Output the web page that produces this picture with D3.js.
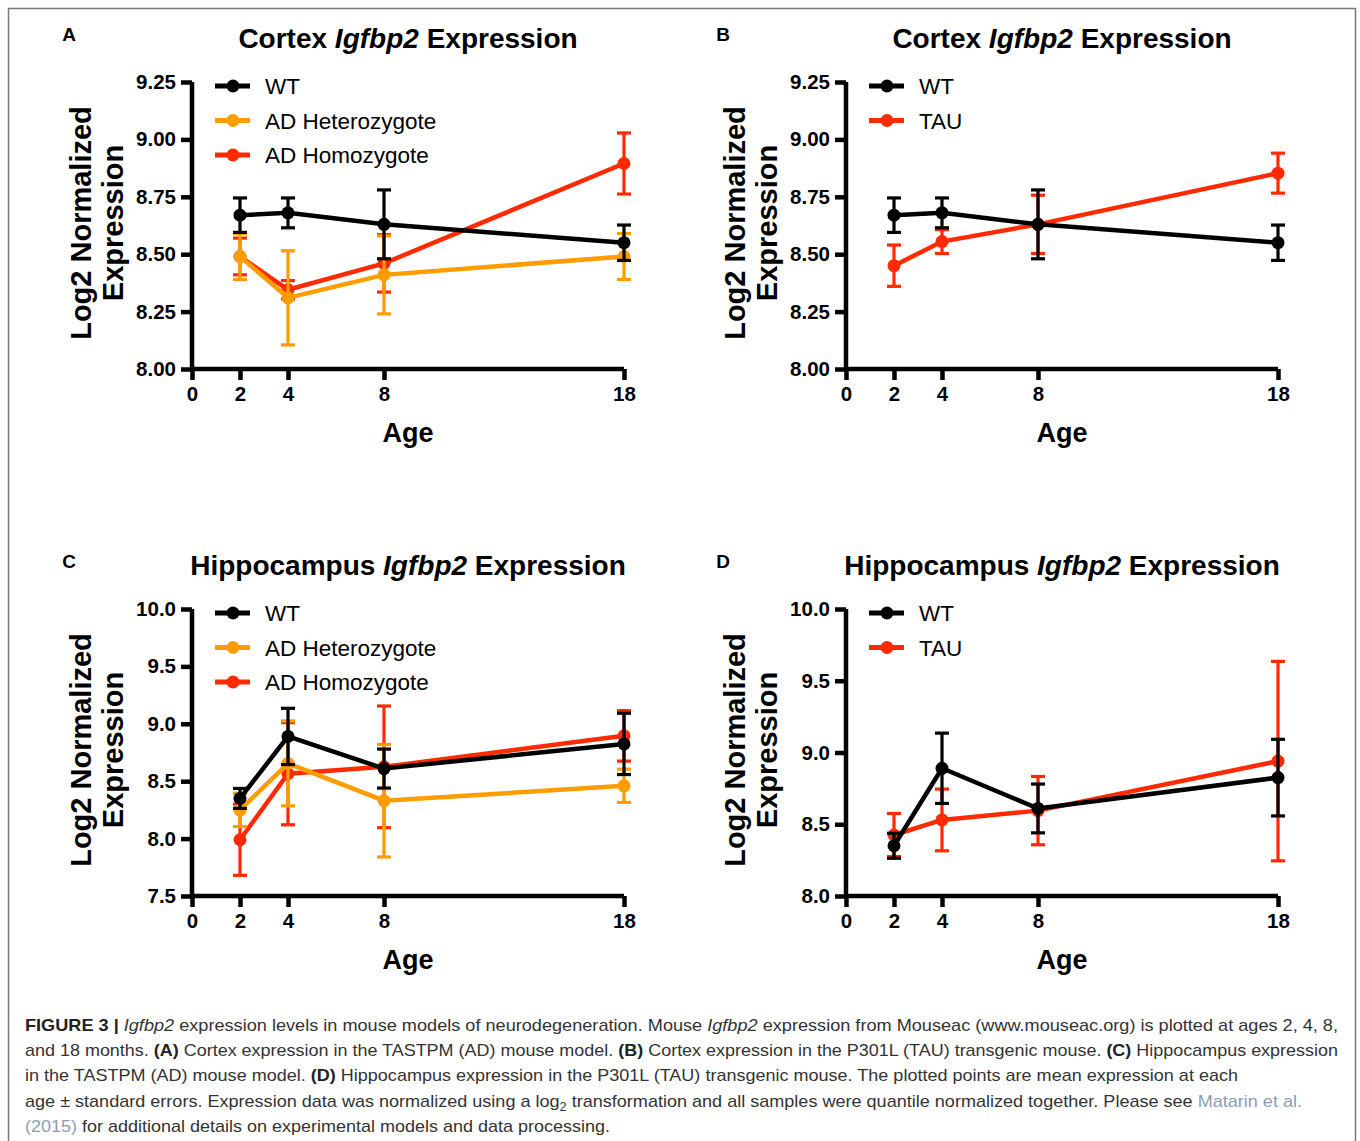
<!DOCTYPE html>
<html>
<head>
<meta charset="utf-8">
<script src="https://cdn.jsdelivr.net/npm/d3@7"></script>
<style>
  body { margin: 0; background: #fff; }
  svg { display: block; font-family: "Liberation Sans", Arial, sans-serif; }
</style>
</head>
<body>
<div id="fig"></div>
<script>
// ages on the x axis, months
var ages = [2, 4, 8, 18];
var xTicks = [0, 2, 4, 8, 18];

// y tick labels per panel
var cortexTicks = [8.0, 8.25, 8.5, 8.75, 9.0, 9.25];
var hippoADTicks = [7.5, 8.0, 8.5, 9.0, 9.5, 10.0];
var hippoTauTicks = [8.0, 8.5, 9.0, 9.5, 10.0];

// cortex means and standard errors
var cortexWT = [8.67, 8.68, 8.63, 8.55];
var cortexWTErr = [0.075, 0.065, 0.15, 0.077];
var cortexHet = [8.49, 8.31, 8.41, 8.49];
var cortexHetErr = [0.1, 0.205, 0.17, 0.1];
var cortexHom = [8.49, 8.345, 8.46, 8.895];
var cortexHomErr = [0.08, 0.04, 0.125, 0.133];
var cortexTau = [8.45, 8.555, 8.63, 8.853];
var cortexTauErr = [0.09, 0.052, 0.127, 0.087];

// hippocampus means and standard errors
var hippoWT = [8.35, 8.89, 8.61, 8.825];
var hippoWTErr = [0.087, 0.245, 0.17, 0.267];
var hippoHet = [8.25, 8.655, 8.33, 8.46];
var hippoHetErr = [0.145, 0.37, 0.49, 0.145];
var hippoHom = [7.99, 8.565, 8.625, 8.895];
var hippoHomErr = [0.31, 0.445, 0.53, 0.22];
var hippoTau = [8.425, 8.53, 8.595, 8.94];
var hippoTauErr = [0.15, 0.215, 0.238, 0.695];

var BLACK = "#000000", ORANGE = "#ff9c00", RED = "#ff2a00";

var svg = d3.select("#fig").append("svg").attr("width", 1360).attr("height", 1141);

// figure frame
svg.append("rect")
  .attr("x", 8.5).attr("y", 8.5).attr("width", 1347).attr("height", 1150)
  .attr("fill", "none").attr("stroke", "#7a7a7a").attr("stroke-width", 1.5);

function panel(p) {
  var x = d3.scaleLinear().domain([0, 18]).range([p.left, p.left + 432]);
  var y = d3.scaleLinear().domain(p.yDomain).range([p.top + 287, p.top]);
  var g = svg.append("g");

  // letter and title
  g.append("text").text(p.letter)
    .attr("x", p.left - 123).attr("y", p.top - 41)
    .style("font-weight", "bold").style("font-size", "19px").attr("text-anchor", "middle");
  var t = g.append("text")
    .attr("x", p.left + 216).attr("y", p.top - 34)
    .attr("text-anchor", "middle").style("font-weight", "bold").style("font-size", "28px");
  t.append("tspan").text(p.region + " ");
  t.append("tspan").text("Igfbp2").style("font-style", "italic");
  t.append("tspan").text(" Expression");

  // axes
  var yAxis = g.append("g")
    .attr("transform", "translate(" + p.left + ",0)")
    .call(d3.axisLeft(y).tickValues(p.yTicks).tickSize(11).tickSizeOuter(0).tickPadding(5)
      .tickFormat(p.yFormat));
  var xAxis = g.append("g")
    .attr("transform", "translate(0," + (p.top + 287) + ")")
    .call(d3.axisBottom(x).tickValues(xTicks).tickSize(11).tickSizeOuter(0).tickPadding(6)
      .tickFormat(d3.format("d")));
  [yAxis, xAxis].forEach(function (a) {
    a.selectAll("path, line").attr("stroke", "#000").attr("stroke-width", 4.5);
    a.selectAll("text").attr("fill", "#000")
      .style("font-weight", "bold").style("font-size", "20.5px")
      .style("font-family", "'Liberation Sans', Arial, sans-serif");
  });
  xAxis.select(".domain").attr("d", "M" + (p.left - 2) + ",0H" + (p.left + 432));
  yAxis.select(".domain").attr("d", "M0," + (p.top) + "V" + (p.top + 289));

  // axis titles
  g.append("text").text("Age")
    .attr("x", p.left + 216).attr("y", p.top + 360)
    .attr("text-anchor", "middle").style("font-weight", "bold").style("font-size", "27px");
  var yt = g.append("text")
    .attr("transform", "translate(" + (p.left - 101) + "," + (p.top + 141) + ") rotate(-90)")
    .attr("text-anchor", "middle").style("font-weight", "bold").style("font-size", "29px");
  yt.append("tspan").text("Log2 Normalized").attr("x", 0).attr("dy", 0);
  yt.append("tspan").text("Expression").attr("x", 0).attr("dy", 32);

  // series: error bars, lines, markers
  var line = d3.line().x(function (d) { return x(d.age); }).y(function (d) { return y(d.v); });
  p.series.forEach(function (s) {
    var pts = ages.map(function (a, i) { return { age: a, v: s.values[i], e: s.errors[i] }; });
    var sg = g.append("g");
    var eb = sg.selectAll("g.err").data(pts).enter().append("g")
      .attr("stroke", s.color).attr("stroke-width", 3.2);
    eb.append("line")
      .attr("x1", function (d) { return x(d.age); }).attr("x2", function (d) { return x(d.age); })
      .attr("y1", function (d) { return y(d.v + d.e); }).attr("y2", function (d) { return y(d.v - d.e); });
    eb.append("line")
      .attr("x1", function (d) { return x(d.age) - 7; }).attr("x2", function (d) { return x(d.age) + 7; })
      .attr("y1", function (d) { return y(d.v + d.e); }).attr("y2", function (d) { return y(d.v + d.e); });
    eb.append("line")
      .attr("x1", function (d) { return x(d.age) - 7; }).attr("x2", function (d) { return x(d.age) + 7; })
      .attr("y1", function (d) { return y(d.v - d.e); }).attr("y2", function (d) { return y(d.v - d.e); });
    sg.append("path").datum(pts).attr("d", line)
      .attr("fill", "none").attr("stroke", s.color).attr("stroke-width", 4.5);
    sg.selectAll("circle").data(pts).enter().append("circle")
      .attr("cx", function (d) { return x(d.age); }).attr("cy", function (d) { return y(d.v); })
      .attr("r", 6.5).attr("fill", s.color);
  });

  // legend
  var lg = g.append("g");
  p.legend.forEach(function (s, i) {
    var ly = p.top + 4 + i * 34.5;
    lg.append("line").attr("x1", p.left + 23).attr("x2", p.left + 58)
      .attr("y1", ly).attr("y2", ly).attr("stroke", s.color).attr("stroke-width", 5);
    lg.append("circle").attr("cx", p.left + 41).attr("cy", ly).attr("r", 6.5).attr("fill", s.color);
    lg.append("text").text(s.name).attr("x", p.left + 73).attr("y", ly + 8)
      .style("font-size", "22.5px").attr("fill", "#000");
  });
}

var f2 = d3.format(".2f"), f1 = d3.format(".1f");

var wtA = { name: "WT", color: BLACK };
var hetA = { name: "AD Heterozygote", color: ORANGE };
var homA = { name: "AD Homozygote", color: RED };
var tauA = { name: "TAU", color: RED };

panel({
  letter: "A", region: "Cortex", left: 192, top: 82, yDomain: [8.0, 9.25], yTicks: cortexTicks, yFormat: f2,
  series: [
    { color: RED, values: cortexHom, errors: cortexHomErr },
    { color: ORANGE, values: cortexHet, errors: cortexHetErr },
    { color: BLACK, values: cortexWT, errors: cortexWTErr }
  ],
  legend: [wtA, hetA, homA]
});
panel({
  letter: "B", region: "Cortex", left: 846, top: 82, yDomain: [8.0, 9.25], yTicks: cortexTicks, yFormat: f2,
  series: [
    { color: RED, values: cortexTau, errors: cortexTauErr },
    { color: BLACK, values: cortexWT, errors: cortexWTErr }
  ],
  legend: [wtA, tauA]
});
panel({
  letter: "C", region: "Hippocampus", left: 192, top: 609, yDomain: [7.5, 10.0], yTicks: hippoADTicks, yFormat: f1,
  series: [
    { color: RED, values: hippoHom, errors: hippoHomErr },
    { color: ORANGE, values: hippoHet, errors: hippoHetErr },
    { color: BLACK, values: hippoWT, errors: hippoWTErr }
  ],
  legend: [wtA, hetA, homA]
});
panel({
  letter: "D", region: "Hippocampus", left: 846, top: 609, yDomain: [8.0, 10.0], yTicks: hippoTauTicks, yFormat: f1,
  series: [
    { color: RED, values: hippoTau, errors: hippoTauErr },
    { color: BLACK, values: hippoWT, errors: hippoWTErr }
  ],
  legend: [wtA, tauA]
});

// caption
var caption = [
  [["b", "FIGURE 3 | "], ["i", "Igfbp2"], ["n", " expression levels in mouse models of neurodegeneration. Mouse "], ["i", "Igfbp2"], ["n", " expression from Mouseac (www.mouseac.org) is plotted at ages 2, 4, 8,"]],
  [["n", "and 18 months. "], ["b", "(A)"], ["n", " Cortex expression in the TASTPM (AD) mouse model. "], ["b", "(B)"], ["n", " Cortex expression in the P301L (TAU) transgenic mouse. "], ["b", "(C)"], ["n", " Hippocampus expression"]],
  [["n", "in the TASTPM (AD) mouse model. "], ["b", "(D)"], ["n", " Hippocampus expression in the P301L (TAU) transgenic mouse. The plotted points are mean expression at each"]],
  [["n", "age \u00b1 standard errors. Expression data was normalized using a log"], ["s", "2"], ["n", " transformation and all samples were quantile normalized together. Please see "], ["l", "Matarin et al."]],
  [["l", "(2015)"], ["n", " for additional details on experimental models and data processing."]]
];
var captionWidths = [1313, 1313, 1213, 1277, 585];

caption.forEach(function (parts, i) {
  var t = svg.append("text")
    .attr("x", 25).attr("y", 1031 + i * 25.2)
    .attr("textLength", captionWidths[i]).attr("lengthAdjust", "spacingAndGlyphs")
    .style("font-size", "17px").attr("fill", "#333");
  parts.forEach(function (pt) {
    var s = t.append("tspan").text(pt[1]);
    if (pt[0] === "b") s.style("font-weight", "bold").attr("fill", "#222");
    if (pt[0] === "i") s.style("font-style", "italic");
    if (pt[0] === "l") s.attr("fill", "#8c9db3");
    if (pt[0] === "s") s.attr("dy", 4).style("font-size", "12px");
    if (i === 3 && pt[0] === "n" && pt[1].indexOf(" transformation") === 0) s.attr("dy", -4);
  });
});
</script>
</body>
</html>
